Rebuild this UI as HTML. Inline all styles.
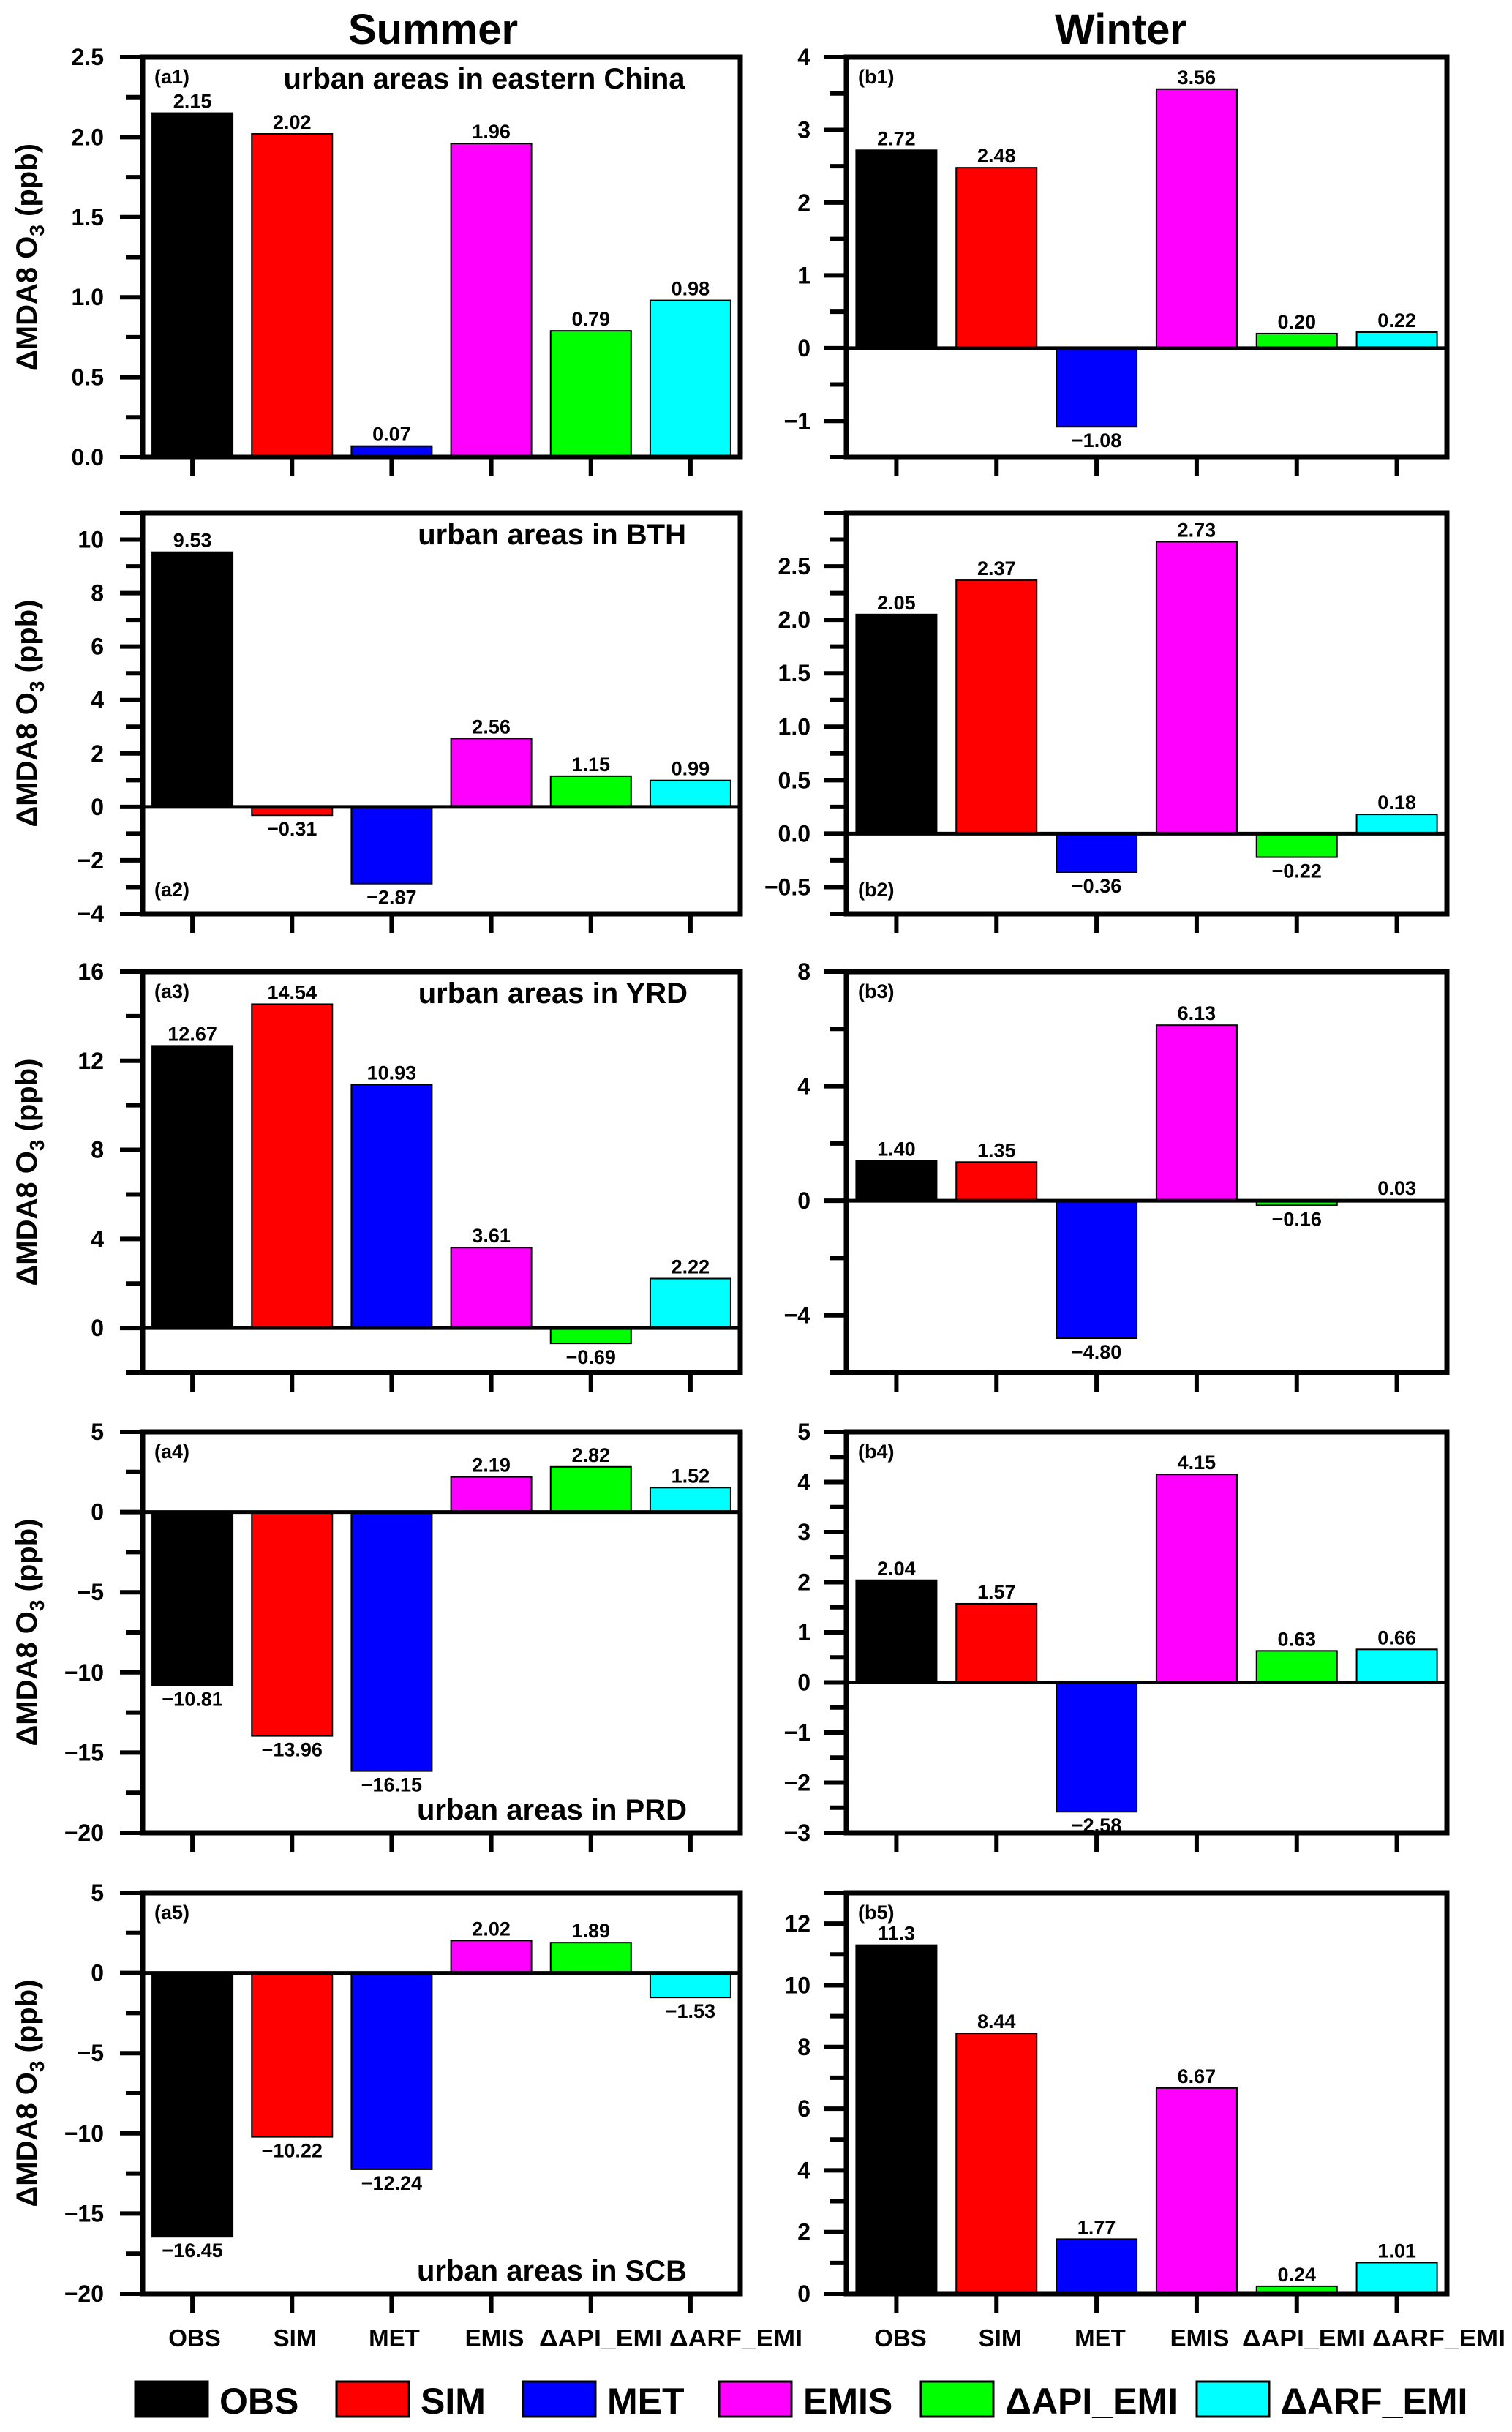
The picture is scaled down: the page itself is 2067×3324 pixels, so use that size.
<!DOCTYPE html>
<html><head><meta charset="utf-8">
<style>
html,body{margin:0;padding:0;background:#fff;}
svg{display:block;font-family:"Liberation Sans",Arial,sans-serif;}
</style></head>
<body>
<svg id="chart" width="2067" height="3324" viewBox="0 0 2067 3324" xmlns="http://www.w3.org/2000/svg">
<rect x="0" y="0" width="2067" height="3324" fill="#fff"/>
<text x="592" y="60" font-size="58" font-weight="bold" text-anchor="middle">Summer</text>
<text x="1532" y="60" font-size="58" font-weight="bold" text-anchor="middle">Winter</text>
<g id="panels"></g>
<g id="legend"></g>
</svg>
<script>
const categories = ["OBS","SIM","MET","EMIS","\u0394API_EMI","\u0394ARF_EMI"];
const colors = ["#000000","#ff0000","#0000ff","#ff00ff","#00ff00","#00ffff"];

const valuesA1 = [2.15, 2.02, 0.07, 1.96, 0.79, 0.98];
const valuesB1 = [2.72, 2.48, -1.08, 3.56, 0.20, 0.22];
const valuesA2 = [9.53, -0.31, -2.87, 2.56, 1.15, 0.99];
const valuesB2 = [2.05, 2.37, -0.36, 2.73, -0.22, 0.18];
const valuesA3 = [12.67, 14.54, 10.93, 3.61, -0.69, 2.22];
const valuesB3 = [1.40, 1.35, -4.80, 6.13, -0.16, 0.03];
const valuesA4 = [-10.81, -13.96, -16.15, 2.19, 2.82, 1.52];
const valuesB4 = [2.04, 1.57, -2.58, 4.15, 0.63, 0.66];
const valuesA5 = [-16.45, -10.22, -12.24, 2.02, 1.89, -1.53];
const valuesB5 = [11.3, 8.44, 1.77, 6.67, 0.24, 1.01];

const labelsA1 = ["2.15","2.02","0.07","1.96","0.79","0.98"];
const labelsB1 = ["2.72","2.48","\u22121.08","3.56","0.20","0.22"];
const labelsA2 = ["9.53","\u22120.31","\u22122.87","2.56","1.15","0.99"];
const labelsB2 = ["2.05","2.37","\u22120.36","2.73","\u22120.22","0.18"];
const labelsA3 = ["12.67","14.54","10.93","3.61","\u22120.69","2.22"];
const labelsB3 = ["1.40","1.35","\u22124.80","6.13","\u22120.16","0.03"];
const labelsA4 = ["\u221210.81","\u221213.96","\u221216.15","2.19","2.82","1.52"];
const labelsB4 = ["2.04","1.57","\u22122.58","4.15","0.63","0.66"];
const labelsA5 = ["\u221216.45","\u221210.22","\u221212.24","2.02","1.89","\u22121.53"];
const labelsB5 = ["11.3","8.44","1.77","6.67","0.24","1.01"];

const ticksA1 = [0,0.5,1.0,1.5,2.0,2.5];
const ticksB1 = [-1,0,1,2,3,4];
const ticksA2 = [-4,-2,0,2,4,6,8,10];
const ticksB2 = [-0.5,0,0.5,1.0,1.5,2.0,2.5];
const ticksA3 = [0,4,8,12,16];
const ticksB3 = [-4,0,4,8];
const ticksA4 = [-20,-15,-10,-5,0,5];
const ticksB4 = [-3,-2,-1,0,1,2,3,4,5];
const ticksA5 = [-20,-15,-10,-5,0,5];
const ticksB5 = [0,2,4,6,8,10,12];

const NS = "http://www.w3.org/2000/svg";
function mk(tag, attrs, parent){
  const e = document.createElementNS(NS, tag);
  for (const k in attrs) e.setAttribute(k, attrs[k]);
  if (parent) parent.appendChild(e);
  return e;
}
function fmt(v, dec){
  const s = Math.abs(v).toFixed(dec);
  return (v < 0 ? "\u2212" : "") + s;
}

const rows = [[78,625],[701,1249],[1328,1876],[1957,2505],[2587,3135]];
const cols = [{l:195,r:1012,tickR:142},{l:1157,r:1978,tickR:1108}];

const panels = [
 {id:"a1",row:0,col:0,vals:valuesA1,labs:labelsA1,ticks:ticksA1,min:0,max:2.5,minor:0.25,dec:1,tag:"(a1)",tagPos:"top",region:"urban areas in eastern China",regionPos:"top",regionX:662,regionAnchor:"middle"},
 {id:"b1",row:0,col:1,vals:valuesB1,labs:labelsB1,ticks:ticksB1,min:-1.5,max:4,minor:0.5,dec:0,tag:"(b1)",tagPos:"top"},
 {id:"a2",row:1,col:0,vals:valuesA2,labs:labelsA2,ticks:ticksA2,min:-4,max:11,minor:1,dec:0,tag:"(a2)",tagPos:"bottom",region:"urban areas in BTH",regionPos:"top",regionX:938,regionAnchor:"end"},
 {id:"b2",row:1,col:1,vals:valuesB2,labs:labelsB2,ticks:ticksB2,min:-0.75,max:3,minor:0.25,dec:1,tag:"(b2)",tagPos:"bottom"},
 {id:"a3",row:2,col:0,vals:valuesA3,labs:labelsA3,ticks:ticksA3,min:-2,max:16,minor:2,dec:0,tag:"(a3)",tagPos:"top",region:"urban areas in YRD",regionPos:"top",regionX:940,regionAnchor:"end"},
 {id:"b3",row:2,col:1,vals:valuesB3,labs:labelsB3,ticks:ticksB3,min:-6,max:8,minor:2,dec:0,tag:"(b3)",tagPos:"top"},
 {id:"a4",row:3,col:0,vals:valuesA4,labs:labelsA4,ticks:ticksA4,min:-20,max:5,minor:2.5,dec:0,tag:"(a4)",tagPos:"top",region:"urban areas in PRD",regionPos:"bottom",regionX:939,regionAnchor:"end"},
 {id:"b4",row:3,col:1,vals:valuesB4,labs:labelsB4,ticks:ticksB4,min:-3,max:5,minor:0.5,dec:0,tag:"(b4)",tagPos:"top"},
 {id:"a5",row:4,col:0,vals:valuesA5,labs:labelsA5,ticks:ticksA5,min:-20,max:5,minor:2.5,dec:0,tag:"(a5)",tagPos:"top",region:"urban areas in SCB",regionPos:"bottom",regionX:939,regionAnchor:"end"},
 {id:"b5",row:4,col:1,vals:valuesB5,labs:labelsB5,ticks:ticksB5,min:0,max:13,minor:1,dec:0,tag:"(b5)",tagPos:"top"}
];

const root = document.getElementById("panels");
panels.forEach(p => {
  const [top, bot] = rows[p.row];
  const c = cols[p.col];
  const g = mk("g", {}, root);
  
  
  const y = v => bot - (v - p.min) / (p.max - p.min) * (bot - top);
  const slot = (c.r - c.l) / 6;
  const xc = i => c.l + slot * (i + 0.5);
  const bw = 110;

  p.vals.forEach((v, i) => {
    const y0 = y(0), y1 = y(v);
    const r = mk("rect", {x: xc(i) - bw/2, y: Math.min(y0,y1), width: bw, height: Math.max(1, Math.abs(y1-y0)), fill: colors[i], stroke: "#000", "stroke-width": 2}, g);
    
    
    const t = mk("text", {x: xc(i), y: v >= 0 ? y1 - 7 : y1 + 28, "font-size": 27, "font-weight": "bold", "text-anchor": "middle"}, g);
    t.textContent = p.labs[i];
    
    
  });

  if (p.min < 0) {
    const z = mk("line", {x1: c.l - 31, x2: c.r, y1: y(0), y2: y(0), stroke: "#000", "stroke-width": 5}, g);
    
    
  }

  const f = mk("rect", {x: c.l, y: top, width: c.r - c.l, height: bot - top, fill: "none", stroke: "#000", "stroke-width": 7}, g);
  
  

  const nMinor = Math.round((p.max - p.min) / p.minor);
  for (let k = 0; k <= nMinor; k++) {
    const v = p.min + k * p.minor;
    const isMajor = p.ticks.some(t => Math.abs(t - v) < 1e-6);
    if (isMajor) continue;
    mk("line", {x1: c.l - 23, x2: c.l, y1: y(v), y2: y(v), stroke: "#000", "stroke-width": 6}, g);
  }
  p.ticks.forEach(v => {
    mk("line", {x1: c.l - 31, x2: c.l, y1: y(v), y2: y(v), stroke: "#000", "stroke-width": 6}, g);
    const t = mk("text", {x: c.tickR, y: y(v) + 11, "font-size": 32, "font-weight": "bold", "text-anchor": "end"}, g);
    t.textContent = fmt(v, p.dec);
    
    
  });
  mk("line", {x1: c.l - 31, x2: c.l, y1: top, y2: top, stroke: "#000", "stroke-width": 6}, g);

  for (let i = 0; i < 6; i++) {
    mk("line", {x1: xc(i), x2: xc(i), y1: bot, y2: bot + 26, stroke: "#000", "stroke-width": 6}, g);
  }

  const tg = mk("text", {x: c.l + 16, y: p.tagPos === "top" ? top + 36 : bot - 24, "font-size": 27, "font-weight": "bold"}, g);
  tg.textContent = p.tag;
  
  

  if (p.region) {
    const rt = mk("text", {x: p.regionX, y: p.regionPos === "top" ? top + 43 : bot - 18, "font-size": 40, "font-weight": "bold", "text-anchor": p.regionAnchor}, g);
    rt.textContent = p.region;
    
    
  }

  if (p.col === 0) {
    const cy = (top + bot) / 2;
    const yt = mk("text", {x: 0, y: 0, transform: "translate(50," + cy + ") rotate(-90)", "font-size": 40, "font-weight": "bold", "text-anchor": "middle"}, g);
    
    
    const t1 = mk("tspan", {}, yt); t1.textContent = "\u0394MDA8 O";
    const t2 = mk("tspan", {dy: 10, "font-size": 28}, yt); t2.textContent = "3";
    const t3 = mk("tspan", {dy: -10}, yt); t3.textContent = " (ppb)";
  }
});

const catCentersA = [266,403,539,676,821,1006];
const catCentersB = [1231,1367,1504,1640,1782,1967];
const catWidths = [0,0,0,0,168,182];
[catCentersA, catCentersB].forEach((arr, ci) => {
  arr.forEach((cx, i) => {
    const attrs = {x: cx, y: 3207, "font-size": 33, "font-weight": "bold", "text-anchor": "middle"};
    if (catWidths[i]) { attrs.textLength = catWidths[i]; attrs.lengthAdjust = "spacingAndGlyphs"; }
    const t = mk("text", attrs, root);
    t.textContent = categories[i];
    
    
  });
});

const legend = document.getElementById("legend");
const legendBoxX = [185, 460, 715, 983, 1259, 1636];
categories.forEach((name, i) => {
  const g = mk("g", {}, legend);
  
  
  mk("rect", {x: legendBoxX[i], y: 3255, width: 99, height: 48, fill: colors[i], stroke: "#000", "stroke-width": 3}, g);
  const t = mk("text", {x: legendBoxX[i] + 115, y: 3299, "font-size": 50, "font-weight": "bold"}, g);
  t.textContent = name;
});
</script>
</body></html>
